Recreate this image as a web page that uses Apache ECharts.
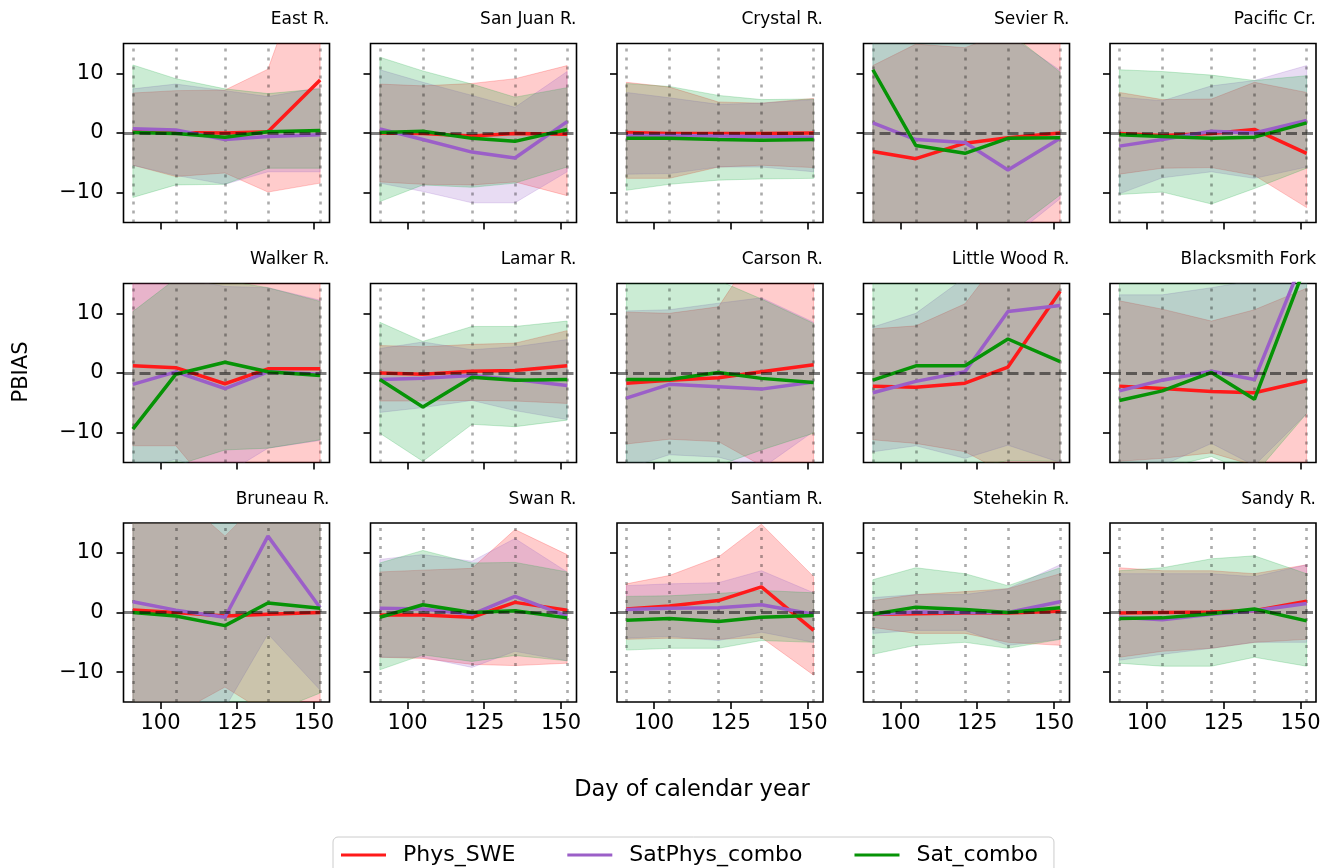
<!DOCTYPE html>
<html><head><meta charset="utf-8">
<script src="https://cdn.jsdelivr.net/npm/echarts@6/dist/echarts.min.js"></script>
<style>html,body{margin:0;padding:0;background:#fff}#c{width:1333px;height:868px}</style>
</head><body><div id="c"></div>
<script>
const days = [91, 105, 121, 135, 152];
const sites = ['East R.', 'San Juan R.', 'Crystal R.', 'Sevier R.', 'Pacific Cr.',
  'Walker R.', 'Lamar R.', 'Carson R.', 'Little Wood R.', 'Blacksmith Fork',
  'Bruneau R.', 'Swan R.', 'Santiam R.', 'Stehekin R.', 'Sandy R.'];
const xTicks = [100, 125, 150];
const yTicks = [-10, 0, 10];
const seriesNames = ['Phys_SWE', 'SatPhys_combo', 'Sat_combo'];

const physMean = [
  [0.3, 0.1, 0.0, 0.2, 8.9], [0.0, -0.1, -0.5, -0.1, -0.2], [0.1, -0.1, -0.1, -0.1, 0.0],
  [-3.1, -4.3, -1.7, -0.8, 0.0], [-0.1, -0.4, -0.1, 0.6, -3.4],
  [1.2, 0.9, -1.8, 0.7, 0.7], [0.0, -0.2, 0.3, 0.4, 1.2], [-1.7, -1.2, -0.8, 0.2, 1.4],
  [-2.2, -2.4, -1.7, 1.0, 13.7], [-2.2, -2.6, -3.1, -3.3, -1.3],
  [0.4, 0.0, -0.6, -0.3, 0.0], [-0.4, -0.4, -0.8, 1.7, 0.4], [0.6, 1.1, 2.0, 4.3, -3.0],
  [-0.3, -0.2, -0.1, -0.1, 0.2], [-0.1, 0.0, 0.1, 0.3, 1.9]
];
const physLo = [
  [-5.4, -7.3, -6.7, -9.9, -8.4], [-8.2, -8.6, -8.7, -8.2, -10.5], [-7.6, -7.6, -5.7, -5.4, -5.8],
  [-25, -25, -25, -25, -20], [-6.9, -5.9, -5.8, -7.1, -12.5],
  [-12.2, -12.2, -22, -22, -22], [-4.7, -4.7, -4.6, -4.7, -5.1], [-11.9, -11.1, -11.5, -15.5, -20],
  [-11.2, -11.8, -13.2, -17, -20], [-14.8, -14.3, -13.4, -15.5, -22],
  [-17, -17, -12.5, -17, -18], [-7.5, -7.7, -8.7, -8.9, -8.5], [-4.5, -4.3, -4.5, -4.2, -10.5],
  [-2.5, -3.5, -3.5, -5.0, -5.5], [-7.5, -6.5, -6.0, -5.0, -4.5]
];
const physHi = [
  [6.7, 7.1, 7.2, 10.7, 35], [8.2, 7.9, 8.3, 9.1, 11.3], [8.5, 7.7, 5.2, 5.0, 5.8],
  [11.3, 14.9, 14.3, 17, 25], [6.8, 5.6, 5.7, 8.5, 6.8],
  [20, 20, 20, 20, 20], [4.6, 4.4, 4.8, 5.0, 7.1], [10.2, 10.0, 11.1, 22, 25],
  [7.4, 7.9, 11.6, 21, 24], [12.1, 10.7, 8.7, 10.6, 14.2],
  [20, 20, 12.8, 20, 20], [6.8, 7.1, 7.4, 13.9, 9.7], [4.8, 6.2, 9.3, 14.8, 6.0],
  [2.0, 3.0, 3.5, 4.0, 6.5], [7.5, 7.0, 7.0, 6.5, 8.0]
];
const spMean = [
  [0.7, 0.5, -1.1, -0.6, -0.3], [0.7, -1.1, -3.2, -4.2, 1.9], [-0.4, -0.4, -0.5, -0.6, -0.7],
  [1.7, -1.1, -1.6, -6.2, -0.9], [-2.2, -1.1, 0.3, 0.0, 2.1],
  [-1.9, 0.2, -2.6, 0.2, -0.2], [-1.1, -0.9, -0.4, -1.1, -2.1], [-4.2, -1.9, -2.3, -2.7, -1.5],
  [-3.3, -1.4, 0.2, 10.3, 11.3], [-3.0, -1.2, 0.3, -1.1, 20.5],
  [1.8, 0.4, -0.8, 12.8, 0.8], [0.7, 0.6, -0.3, 2.7, -0.6], [0.5, 0.7, 0.8, 1.3, -0.3],
  [-0.3, 0.1, 0.0, 0.0, 1.8], [-0.8, -1.2, -0.3, 0.3, 1.5]
];
const spLo = [
  [-5.4, -7.1, -8.6, -6.5, -6.5], [-8.4, -9.8, -11.7, -11.7, -6.5], [-6.9, -6.8, -5.7, -5.7, -6.5],
  [-25, -25, -25, -18, -11], [-10.2, -7.5, -6.5, -7.6, -5.7],
  [-16, -14.5, -17, -12.6, -11.3], [-6.6, -5.8, -4.6, -6.3, -7.8], [-16, -13.7, -14.1, -16, -9.8],
  [-13.2, -12.2, -14.3, -12.1, -15], [-16, -15.5, -11.8, -15.5, -6.8],
  [-17, -17, -16, -3.6, -13], [-7.5, -7.5, -9.2, -6.5, -8.1], [-4.3, -4.0, -4.7, -3.3, -5.0],
  [-3.5, -3.0, -3.0, -5.5, -4.5], [-8.0, -7.0, -6.0, -5.0, -5.0]
];
const spHi = [
  [7.4, 8.2, 7.1, 6.1, 7.6], [10.6, 8.5, 6.3, 4.3, 10.3], [6.8, 5.9, 4.8, 5.0, 5.6],
  [18, 19, 19, 16.5, 10.5], [6.0, 5.4, 7.9, 8.8, 11.3],
  [17, 16, 14.5, 14.3, 12.2], [4.1, 5.2, 3.9, 4.4, 5.6], [10.4, 10.6, 11.7, 12.6, 8.5],
  [7.7, 10.0, 16, 20, 20], [13.1, 13.1, 14.3, 15.5, 20],
  [20, 20, 20, 20, 20], [8.9, 9.7, 8.6, 12.4, 6.8], [4.5, 4.8, 5.0, 7.0, 3.3],
  [2.5, 3.0, 3.0, 4.0, 8.0], [6.5, 6.5, 6.5, 6.0, 8.0]
];
const satMean = [
  [0.1, -0.1, -0.7, 0.2, 0.4], [0.1, 0.3, -0.9, -1.4, 0.6], [-0.9, -0.9, -1.1, -1.2, -1.1],
  [10.6, -2.1, -3.4, -0.9, -0.8], [-0.3, -0.6, -0.9, -0.7, 1.7],
  [-9.4, -0.2, 1.8, 0.2, -0.4], [-1.1, -5.7, -0.7, -1.2, -1.1], [-1.1, -1.1, 0.1, -0.9, -1.6],
  [-1.2, 1.2, 1.2, 5.7, 1.9], [-4.6, -3.0, 0.1, -4.4, 18.5],
  [0.0, -0.6, -2.2, 1.6, 0.7], [-0.8, 1.3, 0.0, 0.3, -0.9], [-1.3, -1.0, -1.5, -0.8, -0.5],
  [-0.3, 0.9, 0.5, 0.0, 0.8], [-1.0, -0.9, -0.2, 0.6, -1.4]
];
const satLo = [
  [-10.8, -8.7, -8.6, -5.9, -5.9], [-11.5, -8.7, -9.1, -8.4, -5.7], [-9.6, -8.6, -7.9, -7.7, -7.6],
  [-25, -25, -25, -17, -10.4], [-10.3, -9.9, -11.9, -9.3, -5.9],
  [-17, -15.5, -12.9, -12.6, -11.2], [-10.1, -14.8, -8.6, -9.0, -7.9], [-16, -16, -15.5, -12.9, -10.1],
  [-17, -17, -16, -14.7, -14.8], [-16, -16, -14, -17, -6.8],
  [-17, -17, -15.5, -17, -13.5], [-9.6, -7.1, -8.2, -7.2, -8.1], [-6.3, -6.0, -6.0, -4.7, -5.0],
  [-7.0, -5.5, -5.0, -6.0, -4.5], [-8.5, -9.0, -9.0, -7.5, -9.0]
];
const satHi = [
  [11.4, 9.1, 7.4, 6.6, 7.4], [12.7, 10.4, 8.2, 6.0, 7.6], [8.3, 7.8, 6.3, 5.6, 5.7],
  [20, 20, 20, 17, 10.2], [10.6, 10.3, 9.7, 8.8, 9.6],
  [10.3, 15.8, 15.5, 14.3, 12.0], [8.5, 5.3, 7.8, 7.8, 8.7], [16, 17, 15.5, 12.4, 8.3],
  [16, 17, 18, 20, 20], [16, 16, 16, 18, 20],
  [20, 20, 20, 20, 20], [8.3, 10.4, 8.3, 8.4, 6.8], [2.7, 2.8, 3.2, 3.7, 3.3],
  [5.5, 7.5, 6.5, 4.5, 7.5], [7.0, 7.5, 9.0, 9.5, 6.5]
];

const FONT = 'DejaVu Sans';
const lineColors = ['#ff1a1a', '#9b5fc8', '#069306'];
const fillColors = ['rgba(255,0,0,0.2)', 'rgba(148,95,200,0.22)', 'rgba(20,170,60,0.22)'];
const colLeft = [123.5, 370.5, 617, 863.5, 1110];
const rowTop = [43.5, 283.5, 523];
const PW = 206, PH = 179;

const means = [physMean, spMean, satMean];
const los = [physLo, spLo, satLo];
const his = [physHi, spHi, satHi];

const grids = [], xAxes = [], yAxes = [], series = [], titles = [];
sites.forEach((name, i) => {
  const r = Math.floor(i / 5), c = i % 5;
  grids.push({ left: colLeft[c], top: rowTop[r], width: PW, height: PH, show: true,
    borderColor: '#000', borderWidth: 1.6, backgroundColor: 'transparent', containLabel: false });
  xAxes.push({ type: 'value', gridIndex: i, min: 87.95, max: 155.05, position: 'bottom',
    axisLine: { show: false, onZero: false }, splitLine: { show: false },
    axisTick: { show: true, inside: false, length: 7, customValues: xTicks, lineStyle: { color: '#000', width: 1.6 } },
    axisLabel: { show: r === 2, customValues: xTicks, fontSize: 21, color: '#000', fontFamily: FONT, margin: 11 } });
  yAxes.push({ type: 'value', gridIndex: i, min: -15, max: 15, position: 'left',
    axisLine: { show: false, onZero: false }, splitLine: { show: false },
    axisTick: { show: true, inside: false, length: 7, customValues: yTicks, lineStyle: { color: '#000', width: 1.6 } },
    axisLabel: { show: c === 0, customValues: yTicks, fontSize: 21, color: '#000', fontFamily: FONT, margin: 20,
      formatter: v => (v < 0 ? '\u2212' + Math.abs(v) : String(v)) } });
  titles.push({ text: name, right: 1333 - (colLeft[c] + PW), top: rowTop[r] - 32, padding: 0,
    textStyle: { fontSize: 17, fontWeight: 'normal', color: '#000', fontFamily: FONT } });

  // bands
  for (let s = 0; s < 3; s++) {
    series.push({
      type: 'custom', name: 'band' + s, xAxisIndex: i, yAxisIndex: i, clip: true, silent: true, z: 1,
      data: days.map((d, j) => [d, los[s][i][j], his[s][i][j]]),
      encode: { x: 0, y: [1, 2] },
      renderItem: (params, api) => {
        if (params.dataIndexInside !== 0) return null;
        const n = params.dataInsideLength;
        const up = [], dn = [];
        for (let k = 0; k < n; k++) {
          up.push(api.coord([api.value(0, k), api.value(2, k)]));
          dn.push(api.coord([api.value(0, k), api.value(1, k)]));
        }
        return { type: 'polygon', shape: { points: up.concat(dn.reverse()) },
          style: { fill: fillColors[s], stroke: fillColors[s], lineWidth: 1 } };
      }
    });
  }
  // vertical dotted lines
  series.push({ type: 'line', name: 'vl', xAxisIndex: i, yAxisIndex: i, data: [], silent: true,
    markLine: { z: 3, silent: true, symbol: ['none', 'none'], label: { show: false }, animation: false,
      lineStyle: { type: [3, 6], color: 'rgba(0,0,0,0.33)', width: 2.6, cap: 'butt' },
      data: days.map(d => ({ xAxis: d })) } });
  // main lines
  for (let s = 0; s < 3; s++) {
    series.push({ type: 'line', name: seriesNames[s], xAxisIndex: i, yAxisIndex: i, z: 6,
      data: days.map((d, j) => [d, means[s][i][j]]), symbol: 'none', silent: true,
      color: lineColors[s], lineStyle: { width: 3.5, color: lineColors[s] } });
  }
  // zero dashed line
  series.push({ type: 'line', name: 'zl', xAxisIndex: i, yAxisIndex: i, data: [], silent: true,
    markLine: { z: 8, silent: true, symbol: ['none', 'none'], label: { show: false }, animation: false,
      lineStyle: { type: [11, 5], color: 'rgba(0,0,0,0.5)', width: 3 },
      data: [{ yAxis: 0 }] } });
});

const chart = echarts.init(document.getElementById('c'), null, { renderer: 'canvas' });
chart.setOption({
  animation: false,
  backgroundColor: '#fff',
  textStyle: { fontFamily: FONT },
  title: titles,
  grid: grids, xAxis: xAxes, yAxis: yAxes, series: series,
  legend: {
    data: seriesNames, left: 333, top: 837, icon: 'rect', itemWidth: 45, itemHeight: 3, itemGap: 52,
    borderColor: '#cccccc', borderWidth: 1, borderRadius: 5, padding: [7, 16, 7, 8],
    textStyle: { fontSize: 22, color: '#000', fontFamily: FONT, padding: [0, 0, 0, 12] }
  },
  graphic: [
    { type: 'text', x: 692, y: 790, style: { text: 'Day of calendar year', fontSize: 22.5, fill: '#000', fontFamily: FONT, align: 'center', verticalAlign: 'middle' } },
    { type: 'text', x: 22, y: 372, rotation: Math.PI / 2, style: { text: 'PBIAS', fontSize: 21, fill: '#000', fontFamily: FONT, align: 'center', verticalAlign: 'middle' } }
  ]
});
</script></body></html>
